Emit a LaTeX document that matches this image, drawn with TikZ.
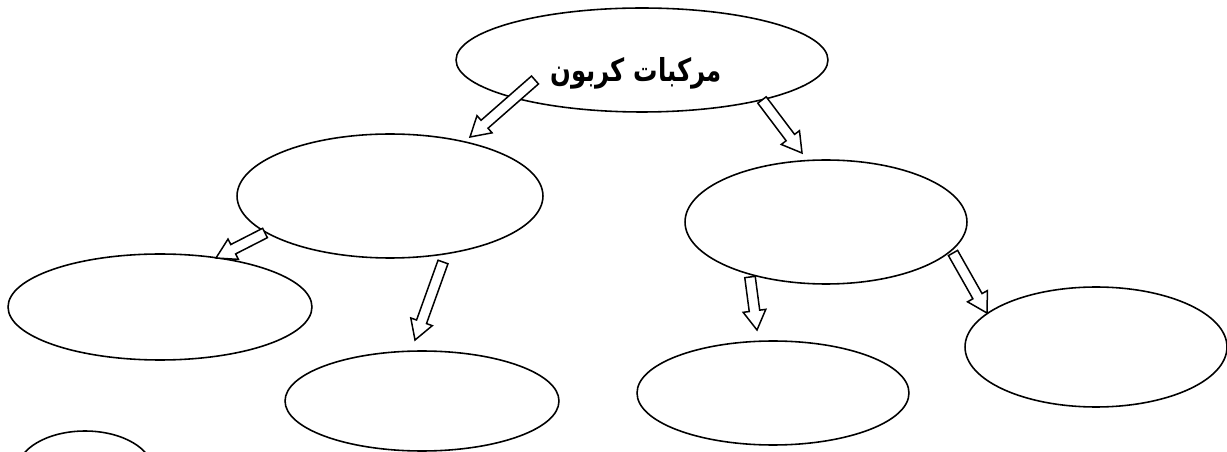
\documentclass[tikz,border=0pt]{standalone}
\usepackage{fontspec}
\usepackage{tikz}
\usetikzlibrary{shapes.geometric, calc}
\newfontfamily\arabicfont[Script=Arabic]{DejaVu Sans}
\TeXXeTstate=1

% hollow block arrow from #1 to #2
\newcommand{\blockarrow}[2]{%
  \coordinate (hb) at ($(#2)!11pt!(#1)$);
  \draw[arrowline] ($(#1)!3pt!90:(#2)$) -- ($(hb)!3pt!90:(#2)$)
    -- ($(hb)!6.5pt!90:(#2)$) -- (#2) -- ($(hb)!6.5pt!-90:(#2)$)
    -- ($(hb)!3pt!-90:(#2)$) -- ($(#1)!3pt!-90:(#2)$) -- cycle;
}

\begin{document}
\begin{tikzpicture}[
    x=0.02cm, y=-0.02cm,
    bubble/.style={ellipse, draw=black, line width=0.9pt, fill=white,
                   inner sep=0pt, outer sep=0pt},
    arrowline/.style={draw=black, line width=0.85pt, fill=white, line join=miter},
    title/.style={font=\arabicfont\bfseries\fontsize{18}{22}\selectfont,
                  inner sep=0pt, xscale=0.77}
]
\useasboundingbox (0,0) rectangle (1227,452);
\clip (0,0) rectangle (1227,452);
\node[bubble, minimum width=7.44cm, minimum height=2.08cm] (top) at (642,60) {};
\node[title] (toptext) at (636,73) {\beginR مركبات كربون\endR};
\node[bubble, minimum width=6.12cm, minimum height=2.48cm] (lmid) at (390,196) {};
\node[bubble, minimum width=5.64cm, minimum height=2.48cm] (rmid) at (826,222) {};
\node[bubble, minimum width=6.08cm, minimum height=2.12cm] (lleft) at (160,307) {};
\node[bubble, minimum width=5.48cm, minimum height=2.0cm] (lright) at (422,401) {};
\node[bubble, minimum width=5.44cm, minimum height=2.08cm] (rleft) at (773,393) {};
\node[bubble, minimum width=5.24cm, minimum height=2.4cm] (rright) at (1096,347) {};
\node[bubble, minimum width=2.72cm, minimum height=1.6cm] (corner) at (85,471) {};
% arrow ends
\coordinate (a1) at ($(top.center)+(-107,20)$);
\coordinate (b1) at ($(lmid.center)+(80,-59)$);
\coordinate (a2) at ($(top.center)+(120,40)$);
\coordinate (b2) at ($(rmid.center)+(-24,-69)$);
\coordinate (a3) at ($(lmid.center)+(-125,37)$);
\coordinate (b3) at ($(lleft.center)+(56,-49)$);
\coordinate (a4) at ($(lmid.center)+(53,66)$);
\coordinate (b4) at ($(lright.center)+(-7,-61)$);
\coordinate (a5) at ($(rmid.center)+(-76,55)$);
\coordinate (b5) at ($(rleft.center)+(-16,-63)$);
\coordinate (a6) at ($(rmid.center)+(127,31)$);
\coordinate (b6) at ($(rright.center)+(-109,-34)$);
\blockarrow{a1}{b1}
\blockarrow{a2}{b2}
\blockarrow{a3}{b3}
\blockarrow{a4}{b4}
\blockarrow{a5}{b5}
\blockarrow{a6}{b6}
\end{tikzpicture}
\end{document}
